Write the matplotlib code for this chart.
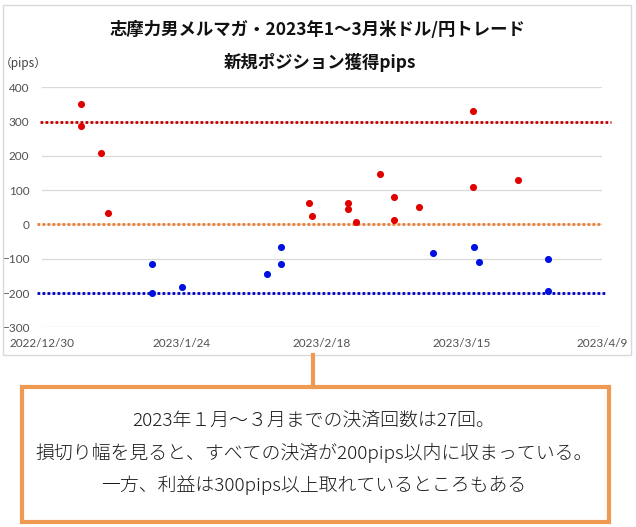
import pandas as pd
import matplotlib.pyplot as plt
from matplotlib.patches import Rectangle
from matplotlib.lines import Line2D

plt.rcParams['font.family'] = ['Noto Sans CJK JP', 'DejaVu Sans']

# 利益確定（赤）
win_dates = ["2023-01-06 00:00", "2023-01-06 00:00", "2023-01-09 12:00", "2023-01-10 22:00",
             "2023-02-15 19:00", "2023-02-16 07:00", "2023-02-22 18:00", "2023-02-22 18:00",
             "2023-02-24 02:00", "2023-02-28 10:00", "2023-03-02 19:00", "2023-03-02 19:00",
             "2023-03-07 07:00", "2023-03-16 22:00", "2023-03-16 22:00", "2023-03-25 02:00"]
win_pips = [352, 286, 208, 34, 63, 24, 62, 46, 7, 147, 79, 13, 50, 331, 108, 130]

# 損切り（青）
loss_dates = ["2023-01-18 18:00", "2023-01-18 18:00", "2023-01-24 00:00", "2023-02-08 05:00",
              "2023-02-10 17:00", "2023-02-10 17:00", "2023-03-09 18:00", "2023-03-17 05:00",
              "2023-03-18 00:00", "2023-03-30 07:00", "2023-03-30 07:00"]
loss_pips = [-115, -200, -182, -144, -115, -65, -82, -67, -110, -101, -195]

x_ticks = ["2022/12/30", "2023/1/24", "2023/2/18", "2023/3/15", "2023/4/9"]
y_ticks = [-300, -200, -100, 0, 100, 200, 300, 400]
ref_levels = [300, 0, -200]

title1 = "志摩力男メルマガ・2023年1～3月米ドル/円トレード"
title2 = "新規ポジション獲得pips"
note_lines = ["2023年１月～３月までの決済回数は27回。",
              "損切り幅を見ると、すべての決済が200pips以内に収まっている。",
              "一方、利益は300pips以上取れているところもある"]

W, H = 636, 527
fig = plt.figure(figsize=(W / 100, H / 100), dpi=100)
ax = fig.add_axes([41.7 / W, 1 - 327.3 / H, 560.3 / W, 240 / H])

# 目安ライン
ref_style = [("#C00000", -0.003, 1.016), ("#ED7D31", -0.008, 1.0), ("#0000C0", -0.008, 1.009)]
for lvl, (c, x0, x1) in zip(ref_levels, ref_style):
    ax.axhline(lvl, xmin=x0, xmax=x1, color=c, lw=2.0, dashes=(1, 0.8), clip_on=False, zorder=2)

ax.scatter(pd.to_datetime(win_dates), win_pips, s=26, color="#E00000", zorder=3, linewidths=0)
ax.scatter(pd.to_datetime(loss_dates), loss_pips, s=26, color="#0010E0", zorder=3, linewidths=0)

tick_dates = pd.to_datetime(x_ticks, format="%Y/%m/%d")
ax.set_xlim(tick_dates[0], tick_dates[-1])
ax.set_xticks(tick_dates)
ax.set_xticklabels(x_ticks)
ax.set_ylim(y_ticks[0], y_ticks[-1])
ax.set_yticks(y_ticks)
ax.grid(axis="y", color="#D9D9D9", lw=0.9)
ax.set_axisbelow(True)
for s in ax.spines.values():
    s.set_visible(False)
ax.tick_params(length=0, labelsize=8.5, labelcolor="#505050")
ax.tick_params(axis="x", pad=8)
ax.tick_params(axis="y", pad=9)
for lab in ax.get_xticklabels() + ax.get_yticklabels():
    lab.set_family(["Lato", "DejaVu Sans"])

fig.text(318 / W, 1 - 30 / H, title1, ha="center", va="center", fontsize=12.5, fontweight="bold", color="#111111")
fig.text(320 / W, 1 - 63 / H, title2, ha="center", va="center", fontsize=12.5, fontweight="bold", color="#111111")
fig.text(0 / W, 1 - 63 / H, "（pips）", ha="left", va="center", fontsize=8.5, color="#404040")

# 枠と吹き出し
fig.add_artist(Rectangle((3 / W, 1 - 355 / H), 628 / W, 350 / H, transform=fig.transFigure,
                         fill=False, edgecolor="#D9D9D9", lw=1))
fig.add_artist(Line2D([313 / W, 313 / W], [1 - 355 / H, 1 - 387 / H], transform=fig.transFigure,
                      color="#EE9A52", lw=3))
fig.add_artist(Rectangle((22 / W, 1 - 522 / H), 587 / W, 135 / H, transform=fig.transFigure,
                         fill=False, edgecolor="#EE9A52", lw=3))
for i, line in enumerate(note_lines):
    fig.text(314 / W, 1 - (421 + 32 * i) / H, line, ha="center", va="center", fontsize=13.6,
             color="#1A1A1A", fontweight="light")

fig.savefig("out.png", dpi=100, facecolor="white")
